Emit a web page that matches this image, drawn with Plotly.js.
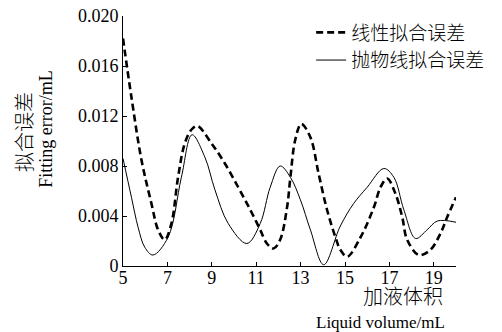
<!DOCTYPE html>
<html>
<head>
<meta charset="utf-8">
<script src="https://cdn.plot.ly/plotly-3.0.1.min.js"></script>
<style>
html,body{margin:0;padding:0;background:#fff;}
#chart{width:502px;height:332px;}
</style>
</head>
<body>
<div id="chart"></div>
<script>
// Linear fitting error (dashed)
const linearX = [5, 5.38, 5.83, 6.28, 6.58, 6.88, 7.18, 7.48, 7.78, 8.08, 8.35, 8.99, 9.59, 10.19, 10.73, 11.18, 11.48, 11.78, 12.08, 12.39, 12.54, 12.76, 13.03, 13.44, 13.81, 14.19, 14.57, 14.79, 15.1, 15.7, 16.3, 16.6, 16.9, 17.27, 17.58, 17.8, 18.33, 18.85, 19.3, 19.6, 20];
const linearY = [0.0182, 0.0135, 0.0085, 0.0050, 0.0029, 0.0021, 0.0034, 0.0071, 0.0098, 0.0109, 0.0112, 0.0098, 0.0082, 0.0063, 0.0045, 0.0029, 0.0018, 0.0014, 0.0021, 0.0047, 0.0071, 0.0101, 0.01136, 0.0103, 0.0074, 0.0045, 0.0023, 0.0013, 0.00075, 0.0023, 0.0047, 0.0063, 0.0070, 0.0058, 0.0039, 0.0021, 0.00088, 0.0013, 0.0026, 0.0039, 0.0055];
// Parabolic fitting error (solid)
const paraX = [5, 5.38, 5.68, 5.98, 6.35, 7.03, 7.63, 8.11, 8.69, 9.14, 9.74, 10.58, 11.18, 11.63, 12.08, 12.54, 12.99, 13.44, 14.04, 14.79, 15.39, 16.0, 16.75, 17.2, 17.65, 18.18, 18.7, 19.16, 20];
const paraY = [0.0086, 0.0055, 0.0031, 0.0015, 0.00088, 0.0023, 0.0071, 0.0105, 0.0087, 0.0061, 0.0034, 0.0018, 0.0034, 0.0063, 0.0080, 0.0071, 0.0053, 0.0029, 0.0001, 0.0032, 0.0050, 0.0063, 0.0078, 0.0071, 0.0045, 0.0022, 0.0029, 0.0036, 0.0035];

const seriesNames = ['线性拟合误差', '抛物线拟合误差'];
const xTickVals = [5, 7, 9, 11, 13, 15, 17, 19, 20];
const xTickText = ['5', '7', '9', '11', '13', '15', '17', '19', ''];
const yTickVals = [0, 0.004, 0.008, 0.012, 0.016, 0.020];
const yTickText = ['0', '0.004', '0.008', '0.012', '0.016', '0.020'];
const yTitleCn = '拟合误差', yTitleEn = 'Fitting error/mL';
const xTitleCn = '加液体积', xTitleEn = 'Liquid volume/mL';

const serif = '"Liberation Serif", "Times New Roman", "Noto Sans CJK SC", serif';
const cjk = '"Liberation Serif", "Noto Sans CJK SC", serif';

const traces = [
  {x: linearX, y: linearY, name: seriesNames[0], mode: 'lines', type: 'scatter',
   legendgroup: 'a',
   line: {color: '#000', width: 2.6, dash: '7px,4px', shape: 'spline', smoothing: 1}},
  {x: paraX, y: paraY, name: seriesNames[1], mode: 'lines', type: 'scatter',
   legendgroup: 'b',
   line: {color: '#000', width: 1, shape: 'spline', smoothing: 1}}
];

const layout = {
  width: 502, height: 332,
  margin: {l: 123, r: 46, t: 16, b: 66},
  paper_bgcolor: '#fff', plot_bgcolor: '#fff',
  showlegend: true,
  legend: {x: 0.565, y: 1.01, xanchor: 'left', yanchor: 'top', bgcolor: 'rgba(0,0,0,0)',
           font: {family: cjk, size: 19, weight: 300, color: '#000'}, traceorder: 'grouped', tracegroupgap: 0},
  xaxis: {range: [5, 20], tickvals: xTickVals, ticktext: xTickText, ticks: 'inside', ticklen: 4,
          tickcolor: '#000', showline: true, linecolor: '#000', linewidth: 1, showgrid: false,
          zeroline: false, ticklabelstandoff: -5, tickfont: {family: serif, size: 18, color: '#000'}},
  yaxis: {range: [0, 0.020], tickvals: yTickVals, ticktext: yTickText, ticks: 'inside', ticklen: 4,
          tickcolor: '#000', showline: true, linecolor: '#000', linewidth: 1, showgrid: false,
          zeroline: false, tickfont: {family: serif, size: 18, color: '#000'}},
  annotations: [
    {text: yTitleCn, xref: 'paper', yref: 'paper', x: -0.294, y: 0.536,
     xanchor: 'center', yanchor: 'middle', textangle: -90, showarrow: false,
     font: {family: cjk, size: 20, weight: 300, color: '#000'}},
    {text: yTitleEn, xref: 'paper', yref: 'paper', x: -0.232, y: 0.548,
     xanchor: 'center', yanchor: 'middle', textangle: -90, showarrow: false,
     font: {family: serif, size: 18, color: '#000'}},
    {text: xTitleCn, xref: 'paper', yref: 'paper', x: 0.966, y: -0.124,
     xanchor: 'right', yanchor: 'middle', showarrow: false,
     font: {family: cjk, size: 20, weight: 300, color: '#000'}},
    {text: xTitleEn, xref: 'paper', yref: 'paper', x: 0.972, y: -0.224,
     xanchor: 'right', yanchor: 'middle', showarrow: false,
     font: {family: serif, size: 17, color: '#000'}}
  ]
};

Plotly.newPlot('chart', traces, layout, {displayModeBar: false, staticPlot: true});
</script>
</body>
</html>
